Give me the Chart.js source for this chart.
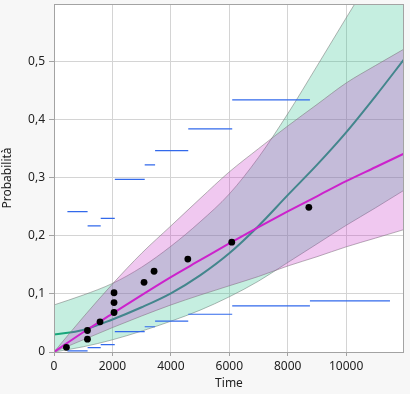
<!DOCTYPE html>
<html>
<head>
<meta charset="utf-8">
<script src="https://cdn.jsdelivr.net/npm/chart.js@4/dist/chart.umd.min.js"></script>
<style>
  html, body { margin: 0; padding: 0; background: #f7f7f7; }
  #wrap { width: 410px; height: 394px; }
</style>
</head>
<body>
<div id="wrap"><canvas id="chart" width="410" height="394"></canvas></div>
<script>
// ---- data ----
const fitTime     = [0, 1000, 2000, 3000, 4000, 5000, 6000, 7000, 8000, 9000, 10000, 11000, 12000];
const magentaFit  = [0.000, 0.034, 0.066, 0.098, 0.129, 0.158, 0.187, 0.215, 0.242, 0.268, 0.294, 0.318, 0.342];
const magentaLow  = [0.000, 0.021, 0.042, 0.062, 0.081, 0.098, 0.114, 0.130, 0.148, 0.164, 0.181, 0.196, 0.211];
const magentaHigh = [0.000, 0.060, 0.117, 0.170, 0.217, 0.264, 0.310, 0.350, 0.389, 0.426, 0.463, 0.493, 0.522];
const tealFit     = [0.030, 0.038, 0.056, 0.077, 0.101, 0.132, 0.170, 0.217, 0.270, 0.322, 0.378, 0.440, 0.505];
const tealLow     = [0.000, 0.009, 0.021, 0.036, 0.053, 0.072, 0.095, 0.122, 0.154, 0.186, 0.218, 0.248, 0.279];
const tealHigh    = [0.081, 0.098, 0.118, 0.146, 0.182, 0.224, 0.272, 0.335, 0.410, 0.492, 0.575, 0.657, 0.740];

// nonparametric estimates
const pointTime = [425, 1145, 1145, 1575, 2055, 2055, 2055, 3082, 3425, 4580, 6085, 8723];
const pointProb = [0.008, 0.022, 0.037, 0.052, 0.068, 0.085, 0.102, 0.120, 0.139, 0.160, 0.189, 0.249];

// interval confidence limits (horizontal segments)
const segStart = [459, 1150, 1599, 2075, 2082, 3105, 3460, 4595, 6100, 8760];
const segEnd   = [1150, 1599, 2080, 2085, 3105, 3460, 4595, 6100, 8760, 11500];
const segUpper = [0.2416, 0.217, 0.230, 0.276, 0.297, 0.322, 0.3466, 0.384, 0.434, null];
const segLower = [0.002, 0.0075, 0.0127, null, 0.035, 0.0435, 0.053, 0.065, 0.0795, 0.088];

const xTicks = [0, 2000, 4000, 6000, 8000, 10000];
const yTicks = [0, 0.1, 0.2, 0.3, 0.4, 0.5];

function curve(ys) {
  return fitTime.map((t, i) => ({ x: t, y: ys[i] }));
}

// segments joined into one dataset, with a null point between them
function segments(vals) {
  const out = [];
  segStart.forEach((s, i) => {
    if (vals[i] === null) return;
    out.push({ x: s, y: vals[i] }, { x: segEnd[i], y: vals[i] }, { x: segEnd[i], y: null });
  });
  return out;
}

const bandEdge = 'rgba(120,120,120,0.55)';
const segColor = 'rgb(50,105,235)';

// plot background + frame
const framePlugin = {
  id: 'frame',
  beforeDraw(chart) {
    const { ctx, chartArea: a } = chart;
    ctx.save();
    ctx.fillStyle = '#f7f7f7';
    ctx.fillRect(0, 0, chart.width, chart.height);
    ctx.fillStyle = '#ffffff';
    ctx.fillRect(a.left, a.top, a.right - a.left, a.bottom - a.top);
    ctx.restore();
  },
  afterDraw(chart) {
    const { ctx, chartArea: a } = chart;
    ctx.save();
    ctx.strokeStyle = '#a3a3a3';
    ctx.lineWidth = 1;
    ctx.strokeRect(a.left + 0.5, a.top + 0.5, a.right - a.left - 1, a.bottom - a.top);
    ctx.restore();
  }
};

const ctx = document.getElementById('chart').getContext('2d');
new Chart(ctx, {
  type: 'line',
  data: {
    datasets: [
      { // 0 points
        type: 'scatter', data: pointTime.map((t, i) => ({ x: t, y: pointProb[i] })),
        backgroundColor: '#000', borderColor: '#000', pointRadius: 3.4, pointBorderWidth: 0
      },
      { // 1 magenta fit
        data: curve(magentaFit), borderColor: 'rgb(204,34,204)', borderWidth: 2,
        pointRadius: 0, cubicInterpolationMode: 'monotone', fill: false
      },
      { // 2 upper limits
        data: segments(segUpper), borderColor: segColor, borderWidth: 1.2,
        pointRadius: 0, spanGaps: false, fill: false
      },
      { // 3 lower limits
        data: segments(segLower), borderColor: segColor, borderWidth: 1.2,
        pointRadius: 0, spanGaps: false, fill: false
      },
      { // 4 magenta band upper
        data: curve(magentaHigh), borderColor: bandEdge, borderWidth: 1,
        pointRadius: 0, cubicInterpolationMode: 'monotone',
        fill: '+1', backgroundColor: 'rgba(195,35,195,0.25)'
      },
      { // 5 magenta band lower
        data: curve(magentaLow), borderColor: bandEdge, borderWidth: 1,
        pointRadius: 0, cubicInterpolationMode: 'monotone', fill: false
      },
      { // 6 teal band upper
        data: curve(tealHigh), borderColor: bandEdge, borderWidth: 1,
        pointRadius: 0, cubicInterpolationMode: 'monotone',
        fill: '+1', backgroundColor: 'rgba(23,187,131,0.25)'
      },
      { // 7 teal band lower
        data: curve(tealLow), borderColor: bandEdge, borderWidth: 1,
        pointRadius: 0, cubicInterpolationMode: 'monotone', fill: false
      },
      { // 8 teal fit (under the bands)
        data: curve(tealFit), borderColor: 'rgb(25,160,120)', borderWidth: 2,
        pointRadius: 0, cubicInterpolationMode: 'monotone', fill: false
      }
    ]
  },
  options: {
    responsive: false,
    animation: false,
    devicePixelRatio: 1,
    layout: { padding: { top: 3, right: 6, left: 0, bottom: 0 } },
    plugins: { legend: { display: false }, tooltip: { enabled: false } },
    scales: {
      x: {
        type: 'linear', min: 0, max: 11980,
        afterFit: s => { s.height = 42; },
        afterBuildTicks: s => { s.ticks = xTicks.map(v => ({ value: v })); },
        grid: { color: '#d4d4d4', tickColor: '#a3a3a3', tickLength: 4 },
        border: { display: false },
        ticks: {
          color: '#222', padding: 3, font: { family: 'Noto Sans', size: 12 }, maxRotation: 0,
          callback: v => String(v)
        },
        title: { display: true, text: 'Time', color: '#222', font: { family: 'Noto Sans', size: 12 }, padding: { top: 0, bottom: 3 } }
      },
      y: {
        type: 'linear', min: 0, max: 0.599,
        afterFit: s => { s.width = 54; s.paddingTop = 0; s.paddingBottom = 0; },
        afterBuildTicks: s => { s.ticks = yTicks.map(v => ({ value: v })); },
        grid: { color: '#d4d4d4', tickColor: '#a3a3a3', tickLength: 5 },
        border: { display: false },
        ticks: {
          color: '#222', padding: 4, font: { family: 'Noto Sans', size: 12 },
          callback: v => v === 0 ? '0' : v.toFixed(1).replace('.', ',')
        },
        title: { display: true, text: 'Probabilità', color: '#222', font: { family: 'Noto Sans', size: 12 }, padding: { top: 0, bottom: 2 } }
      }
    }
  },
  plugins: [framePlugin]
});
</script>
</body>
</html>
